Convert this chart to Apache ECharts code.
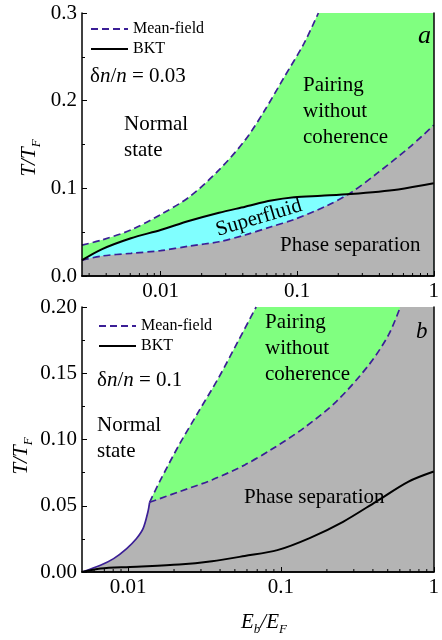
<!DOCTYPE html>
<html><head><meta charset="utf-8">
<script src="https://cdn.jsdelivr.net/npm/echarts@6/dist/echarts.min.js"></script>
<style>html,body{margin:0;padding:0;background:#fff}#c{width:442px;height:640px}</style>
</head><body><div id="c"></div>
<script>
// ---------- Panel a: δn/n = 0.03 ----------
const aXMin = 0.00266;
const aUpperE = [0.00266, 0.0037, 0.00607, 0.01, 0.0163, 0.0268, 0.0416, 0.0579, 0.0805, 0.112, 0.143];
const aUpperT = [0.0353, 0.041, 0.0525, 0.070, 0.0904, 0.121, 0.155, 0.189, 0.227, 0.265, 0.300];
const aBKTE = [0.00266, 0.0037, 0.00607, 0.01, 0.0163, 0.0268, 0.0416, 0.0646, 0.095, 0.15, 0.247, 0.55, 1];
const aBKTT = [0.018, 0.0304, 0.043, 0.0525, 0.063, 0.0722, 0.079, 0.086, 0.0898, 0.0915, 0.0935, 0.0988, 0.1057];
const aLowerE = [0.00266, 0.0037, 0.00607, 0.01, 0.0163, 0.0268, 0.0416, 0.0646, 0.095, 0.164, 0.247, 0.384, 0.667, 1];
const aLowerT = [0.018, 0.0228, 0.0259, 0.0289, 0.0342, 0.0391, 0.0468, 0.0562, 0.0645, 0.080, 0.095, 0.117, 0.147, 0.172];

// ---------- Panel b: δn/n = 0.1 ----------
const bXMin = 0.005;
const bLeftE = [0.005, 0.0066, 0.00805, 0.0098, 0.01137, 0.01256, 0.0135, 0.01384];
const bLeftT = [0.0, 0.0051, 0.0101, 0.0177, 0.0253, 0.0329, 0.0455, 0.0526];
const bUpperE = [0.01384, 0.0161, 0.0216, 0.029, 0.0391, 0.0525, 0.0689];
const bUpperT = [0.0526, 0.0682, 0.096, 0.1212, 0.1465, 0.1742, 0.200];
const bLowerE = [0.01384, 0.0216, 0.0354, 0.058, 0.0859, 0.141, 0.231, 0.378, 0.508, 0.604];
const bLowerT = [0.0526, 0.0606, 0.0695, 0.0808, 0.0922, 0.1086, 0.1288, 0.1566, 0.1793, 0.200];
const bBKTE = [0.005, 0.0066, 0.0103, 0.0216, 0.0354, 0.058, 0.0948, 0.1555, 0.255, 0.418, 0.684, 1];
const bBKTT = [0.0, 0.0026, 0.0038, 0.0056, 0.0081, 0.0121, 0.0165, 0.0258, 0.0379, 0.053, 0.0682, 0.0758];

// tick labels
const aYTicks = {min: 0, max: 0.3, interval: 0.1, digits: 1};
const bYTicks = {min: 0, max: 0.2, interval: 0.05, digits: 2};
const legendNames = ['Mean-field', 'BKT'];

const SERIF = 'Liberation Serif';
const PURPLE = '#3b1f96';
const GREEN = '#80ff80', CYAN = '#80ffff', GRAY = '#b4b4b4';
const DASH = [7, 4];
const SMOOTH = 0.3;

const zip = (E, T) => E.map((e, i) => [e, T[i]]);
function minorTicks(min, max) {
  const out = [];
  for (let k = -3; k <= 0; k++) for (let m = 2; m <= 9; m++) {
    const v = m * Math.pow(10, k);
    if (v > min * 1.0001 && v < max) out.push([v, 0]);
  }
  return out;
}

function xAxes(grid, min) {
  return [
    {type: 'log', logBase: 10, gridIndex: grid, min: min, max: 1, z: 10,
     axisLine: {show: true, lineStyle: {color: '#000', width: 1.5}},
     axisTick: {show: true, inside: true, length: 5, lineStyle: {color: '#000', width: 1}},
     minorTick: {show: false}, splitLine: {show: false}, minorSplitLine: {show: false},
     axisLabel: {showMinLabel: false, color: '#000', fontFamily: SERIF, fontSize: 21, margin: 5,
       formatter: v => String(Math.pow(10, Math.round(Math.log10(v))))}},
    {type: 'log', logBase: 10, gridIndex: grid, position: 'top', min: min, max: 1, z: 10,
     axisLine: {show: true, lineStyle: {color: '#000', width: 1.5}},
     axisTick: {show: false}, axisLabel: {show: false}, splitLine: {show: false}}
  ];
}
function yAxes(grid, t) {
  return [
    {type: 'value', gridIndex: grid, min: t.min, max: t.max, interval: t.interval, z: 10,
     axisLine: {show: true, onZero: false, lineStyle: {color: '#000', width: 1.5}},
     axisTick: {show: true, inside: true, length: 5, lineStyle: {color: '#000'}},
     minorTick: {show: true, splitNumber: 2, length: 3, lineStyle: {color: '#000'}},
     splitLine: {show: false},
     axisLabel: {color: '#000', fontFamily: SERIF, fontSize: 21, margin: 5,
       formatter: v => v.toFixed(t.digits)}},
    {type: 'value', gridIndex: grid, position: 'right', min: t.min, max: t.max, z: 10,
     axisLine: {show: true, onZero: false, lineStyle: {color: '#000', width: 1.5}},
     axisTick: {show: false}, axisLabel: {show: false}, splitLine: {show: false}}
  ];
}

function area(name, xi, data, fill, origin, line) {
  return {type: 'line', name: name, xAxisIndex: xi, yAxisIndex: xi, data: data,
    symbol: 'none', smooth: SMOOTH, silent: true, clip: true,
    lineStyle: line || {width: 0, opacity: 0},
    areaStyle: fill ? {color: fill, opacity: 1, origin: origin} : undefined};
}
function tickSeries(xi, min) {
  return {type: 'custom', xAxisIndex: xi, yAxisIndex: xi, z: 10, silent: true,
    data: minorTicks(min, 1),
    renderItem: (params, api) => {
      const p = api.coord([api.value(0), api.value(1)]);
      return {type: 'line', shape: {x1: p[0], y1: p[1], x2: p[0], y2: p[1] - 3},
        style: {stroke: '#000', lineWidth: 1}};
    }};
}

const dashed = {color: PURPLE, width: 1.7, type: DASH};
const solidK = {color: '#000', width: 2};

const series = [
  // panel a
  area('aBKTfill', 0, zip(aBKTE, aBKTT), CYAN, 'start'),
  area('Mean-field', 0, zip(aLowerE, aLowerT), GRAY, 'start', dashed),
  area('BKT', 0, zip(aBKTE, aBKTT), null, null, solidK),
  area('Mean-field', 0, zip(aUpperE, aUpperT), '#ffffff', 'end', dashed),
  tickSeries(0, aXMin),
  // panel b
  area('Mean-field', 2, zip(bLowerE, bLowerT), GREEN, 'end', dashed),
  area('bWhiteFill', 2, zip(bLeftE, bLeftT).concat(zip(bUpperE, bUpperT).slice(1)), '#ffffff', 'end'),
  area('Mean-field', 2, zip(bUpperE, bUpperT), null, null, dashed),
  area('bShared', 2, zip(bLeftE, bLeftT), null, null, {color: PURPLE, width: 1.7}),
  area('BKT', 2, zip(bBKTE, bBKTT), null, null, solidK),
  tickSeries(2, bXMin)
];

const richBase = {
  i: {fontFamily: SERIF, fontStyle: 'italic', fontSize: 21, lineHeight: 28, fill: '#000'},
  r: {fontFamily: SERIF, fontSize: 21, lineHeight: 28, fill: '#000'},
  s: {fontFamily: SERIF, fontStyle: 'italic', fontSize: 13, lineHeight: 14, verticalAlign: 'bottom', fill: '#000'}
};
function block(x, y, text, size) {
  return {type: 'text', x: x, y: y, z: 100, silent: true,
    style: {text: text, fill: '#000', fontFamily: SERIF, fontSize: size || 21,
      lineHeight: 26, align: 'left', verticalAlign: 'top'}};
}
function rich(x, y, text, align, vAlign, rot) {
  return {type: 'text', x: x, y: y, rotation: rot || 0, z: 100, silent: true,
    style: {text: text, rich: richBase, align: align, verticalAlign: vAlign}};
}

const graphic = [
  // panel a
  block(124, 111, 'Normal\nstate'),
  block(303, 72, 'Pairing\nwithout\ncoherence'),
  block(280, 232, 'Phase separation'),
  {type: 'text', x: 259, y: 218, rotation: 0.29, z: 100, silent: true,
   style: {text: 'Superfluid', fill: '#000', fontFamily: SERIF, fontSize: 21, align: 'center', verticalAlign: 'middle'}},
  rich(90, 62, '{r|δ}{i|n}{r|/}{i|n}{r| = 0.03}', 'left', 'top'),
  {type: 'text', x: 418, y: 49, z: 100, silent: true,
   style: {text: 'a', fill: '#000', fontFamily: SERIF, fontStyle: 'italic', fontSize: 26, align: 'left', verticalAlign: 'bottom'}},
  rich(29, 158, '{i|T/T}{s|F}', 'center', 'middle', Math.PI / 2),
  // panel b
  block(265, 309, 'Pairing\nwithout\ncoherence'),
  block(97, 412, 'Normal\nstate'),
  block(244, 484, 'Phase separation'),
  rich(97, 366, '{r|δ}{i|n}{r|/}{i|n}{r| = 0.1}', 'left', 'top'),
  {type: 'text', x: 416, y: 343, z: 100, silent: true,
   style: {text: 'b', fill: '#000', fontFamily: SERIF, fontStyle: 'italic', fontSize: 23, align: 'left', verticalAlign: 'bottom'}},
  rich(21, 456, '{i|T/T}{s|F}', 'center', 'middle', Math.PI / 2),
  rich(264, 622, '{i|E}{s|b}{i|/E}{s|F}', 'center', 'middle')
];

const legendCommon = {
  data: legendNames, orient: 'vertical', padding: 0, itemWidth: 37, itemHeight: 14, itemGap: 4,
  selectedMode: false, itemStyle: {opacity: 0},
  textStyle: {fontFamily: SERIF, fontSize: 16, color: '#000', lineHeight: 16}
};

const option = {
  animation: false,
  backgroundColor: '#ffffff',
  grid: [
    {left: 82, right: 1, top: 13, height: 263, show: true, backgroundColor: GREEN, borderWidth: 0},
    {left: 82, right: 1, top: 307, height: 265, show: true, backgroundColor: GRAY, borderWidth: 0}
  ],
  xAxis: xAxes(0, aXMin).concat(xAxes(1, bXMin)),
  yAxis: yAxes(0, aYTicks).concat(yAxes(1, bYTicks)),
  legend: [
    Object.assign({left: 90, top: 21}, legendCommon),
    Object.assign({left: 98, top: 318}, legendCommon)
  ],
  series: series,
  graphic: graphic
};

const chart = echarts.init(document.getElementById('c'), null, {renderer: 'canvas'});
chart.setOption(option);
</script>
</body></html>
